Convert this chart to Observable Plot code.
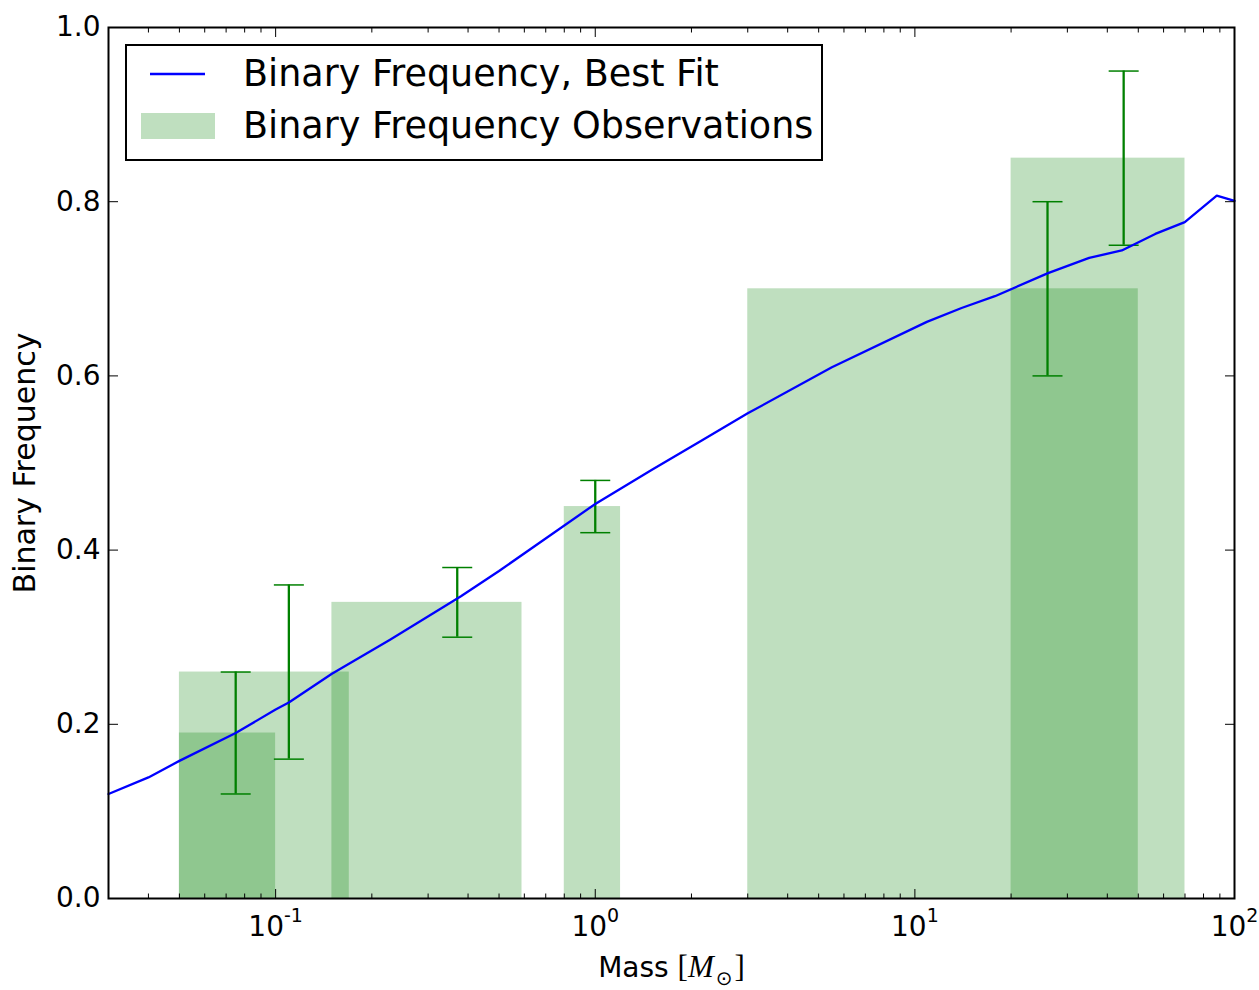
<!DOCTYPE html>
<html>
<head>
<meta charset="utf-8">
<script src="https://cdn.jsdelivr.net/npm/d3@7"></script>
<script src="https://cdn.jsdelivr.net/npm/@observablehq/plot@0.6"></script>
<style>
  body { margin: 0; background: #ffffff; }
  #chart { width: 1259px; height: 990px; }
  #chart svg { display: block; }
</style>
</head>
<body>
<div id="chart"></div>
<script>
// Observed binary-frequency bins (mass range in solar masses)
const binLow  = [0.05, 0.05, 0.15, 0.8, 3, 20];
const binHigh = [0.1, 0.17, 0.59, 1.2, 50, 70];
const binFreq = [0.19, 0.26, 0.34, 0.45, 0.70, 0.85];

// Individual measurements with their uncertainty ranges
const obsMass = [0.075, 0.11, 0.37, 1.0, 26, 45];
const obsLow  = [0.12, 0.16, 0.30, 0.42, 0.60, 0.75];
const obsHigh = [0.26, 0.36, 0.38, 0.48, 0.80, 0.95];

// Best-fit binary frequency curve
const fitMass = [0.03, 0.04, 0.05, 0.075, 0.1, 0.11, 0.15, 0.228, 0.38, 0.5, 1.0, 1.5, 2.16, 3, 5.5, 10.9, 14, 17.8, 26.1, 35.1, 44.4, 56.5, 69.9, 88, 100];
const fitFreq = [0.120, 0.139, 0.158, 0.190, 0.217, 0.225, 0.258, 0.297, 0.347, 0.376, 0.453, 0.492, 0.526, 0.557, 0.610, 0.662, 0.678, 0.6915, 0.718, 0.7355, 0.744, 0.763, 0.7765, 0.807, 0.801];

// Axis ticks and labels
const yTicks = [0, 0.2, 0.4, 0.6, 0.8, 1.0];
const xMajor = [0.1, 1, 10, 100];
const xMajorExp = ["-1", "0", "1", "2"];
const xMinor = [0.03, 0.04, 0.05, 0.06, 0.07, 0.08, 0.09,
                0.2, 0.3, 0.4, 0.5, 0.6, 0.7, 0.8, 0.9,
                2, 3, 4, 5, 6, 7, 8, 9,
                20, 30, 40, 50, 60, 70, 80, 90];
const yLabel = "Binary Frequency";
const xLabelParts = ["Mass ", "[", "M", "\u2299", "]"];
const xLabel = xLabelParts.join("");
const legendLabels = ["Binary Frequency, Best Fit", "Binary Frequency Observations"];

const bins = binLow.map((lo, i) => ({lo, hi: binHigh[i], freq: binFreq[i]}));
const obs = obsMass.map((mass, i) => ({mass, low: obsLow[i], high: obsHigh[i]}));
const fit = fitMass.map((mass, i) => ({mass, freq: fitFreq[i]}));

// horizontal cap symbol for the error bars; half-width equals the dot radius
const capSymbol = {
  draw(context, size) {
    const r = Math.sqrt(size / Math.PI);
    context.moveTo(-r, 0);
    context.lineTo(r, 0);
  }
};

const tickOpts = {fill: "none", label: null, stroke: "black", strokeWidth: 1};

const plot = Plot.plot({
  width: 1259,
  height: 990,
  marginLeft: 108,
  marginRight: 25,
  marginTop: 27,
  marginBottom: 92,
  style: {fontFamily: "'DejaVu Sans', sans-serif", fontSize: "28px", background: "#ffffff", color: "#000000"},
  x: {type: "log", domain: [0.03, 100]},
  y: {domain: [0, 1]},
  marks: [
    Plot.rect(bins, {x1: "lo", x2: "hi", y1: 0, y2: "freq", fill: "green", fillOpacity: 0.25, inset: 0}),
    Plot.ruleX(obs, {x: "mass", y1: "low", y2: "high", stroke: "green", strokeWidth: 2.3}),
    Plot.dot(obs, {x: "mass", y: "low", symbol: capSymbol, r: 15, stroke: "green", strokeWidth: 1.5, fill: "none"}),
    Plot.dot(obs, {x: "mass", y: "high", symbol: capSymbol, r: 15, stroke: "green", strokeWidth: 1.5, fill: "none"}),
    Plot.line(fit, {x: "mass", y: "freq", stroke: "blue", strokeWidth: 2.3}),

    // inward ticks on all four sides
    Plot.axisX({...tickOpts, ticks: xMajor, tickSize: -9}),
    Plot.axisX({...tickOpts, ticks: xMinor, tickSize: -4.5}),
    Plot.axisX({...tickOpts, anchor: "top", ticks: xMajor, tickSize: -9}),
    Plot.axisX({...tickOpts, anchor: "top", ticks: xMinor, tickSize: -4.5}),
    Plot.axisY({...tickOpts, ticks: yTicks, tickSize: -10}),
    Plot.axisY({...tickOpts, anchor: "right", ticks: yTicks, tickSize: -10}),

    // tick labels
    Plot.axisX({ticks: xMajor, tickSize: 0, tickPadding: 18, label: null, fontSize: 28,
                tickFormat: (d) => "10^" + xMajorExp[xMajor.indexOf(d)]}),
    Plot.axisY({ticks: yTicks, tickSize: 0, tickPadding: 8, label: null, fontSize: 28,
                tickFormat: d3.format(".1f")}),

    Plot.frame({stroke: "black", strokeWidth: 2}),

    Plot.text([yLabel], {frameAnchor: "left", dx: -83, rotate: -90, fontSize: 30,
                         textAnchor: "middle", lineAnchor: "middle", fill: "black"}),
    Plot.text([xLabel], {frameAnchor: "bottom", dy: 70, fontSize: 28,
                         textAnchor: "middle", lineAnchor: "middle", fill: "black"})
  ]
});

document.getElementById("chart").appendChild(plot);
const svg = d3.select(plot);

// power-of-ten tick labels with raised exponents
svg.selectAll('g[aria-label="x-axis tick label"] text').each(function () {
  const t = d3.select(this);
  const [base, exp] = t.text().split("^");
  t.text(null);
  t.append("tspan").text(base);
  t.append("tspan").attr("dy", -14).style("font-size", "19px").text(exp);
});

// axis title with math-style solar-mass unit
svg.selectAll("text").filter(function () { return this.textContent === xLabel; }).each(function () {
  const t = d3.select(this);
  t.text(null);
  t.append("tspan").text(xLabelParts[0]);
  t.append("tspan").style("font-family", "'Liberation Serif', serif").style("font-size", "31px").text(xLabelParts[1]);
  t.append("tspan").style("font-family", "'Liberation Serif', serif").style("font-size", "31px")
    .style("font-style", "italic").text(xLabelParts[2]);
  t.append("tspan").style("font-family", "'DejaVu Sans', sans-serif").style("font-size", "20px")
    .attr("dy", 8).attr("dx", 2).text(xLabelParts[3]);
  t.append("tspan").style("font-family", "'Liberation Serif', serif").style("font-size", "31px")
    .attr("dy", -8).attr("dx", 2).text(xLabelParts[4]);
});

// legend box in the upper-left of the axes
const legend = svg.append("g")
  .attr("font-family", "'DejaVu Sans', sans-serif")
  .attr("font-size", 36.5)
  .attr("text-anchor", "start");
legend.append("rect")
  .attr("x", 126).attr("y", 45).attr("width", 696).attr("height", 115)
  .attr("fill", "#ffffff").attr("stroke", "black").attr("stroke-width", 2);
legend.append("line")
  .attr("x1", 150).attr("x2", 205).attr("y1", 74).attr("y2", 74)
  .attr("stroke", "blue").attr("stroke-width", 2.3);
legend.append("rect")
  .attr("x", 141).attr("y", 113).attr("width", 74).attr("height", 26)
  .attr("fill", "green").attr("fill-opacity", 0.25);
legend.append("text").attr("x", 243).attr("y", 86).attr("fill", "black").text(legendLabels[0]);
legend.append("text").attr("x", 243).attr("y", 138).attr("fill", "black").text(legendLabels[1]);
</script>
</body>
</html>
